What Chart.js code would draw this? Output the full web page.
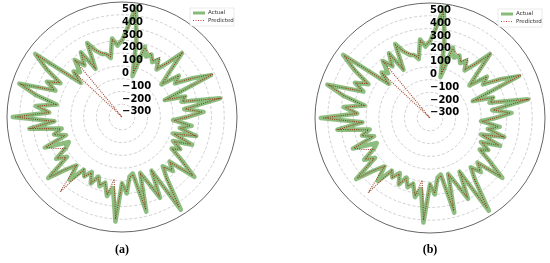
<!DOCTYPE html>
<html>
<head>
<meta charset="utf-8">
<script src="https://cdn.jsdelivr.net/npm/chart.js@4"></script>
<style>
html, body { margin: 0; padding: 0; background: #fff; }
#wrap { position: relative; width: 550px; height: 263px; overflow: hidden; }
.panel { position: absolute; top: 0; width: 275px; height: 263px; }
.cap { position: absolute; top: 242px; text-align: center; font: bold 12px "Liberation Serif", serif; color: #000; }
</style>
</head>
<body>
<div id="wrap">
  <div class="panel" style="left:0"><canvas id="chartA" width="275" height="263"></canvas></div>
  <div class="panel" style="left:275px"><canvas id="chartB" width="275" height="263"></canvas></div>
  <div class="cap" style="left:92px;width:60px">(a)</div>
  <div class="cap" style="left:400px;width:60px">(b)</div>
</div>
<script>
// Data, clockwise from the top, 100 samples
const actual = [
  200, 300, 470, 200, -70, 180, 110, 140, 90, 130,
  60, 140, 285, 100, 0, 150, 90, 230, 370, -40,
  120, 80, 380, 90, 240, 110, 0, 150, 60, 200,
  20, 190, 40, 120, 60, 180, 335, 110, 180, 100,
  200, 460, 80, 300, 150, 60, 365, 50, 70, 200,
  120, 420, 160, 230, 130, 170, 100, 175, 90, 150,
  110, 240, 120, 200, 350, 130, 210, 100, 60, 250,
  60, 150, 80, 330, 130, 455, 170, 280, 120, 300,
  445, 160, 250, 150, 300, 440, 20, 120, 80, 180,
  100, 200, 30, 240, 160, 120, 110, 70, 220, 160
];
const predicted = [
  200, 290, 440, 190, -50, 170, 150, 140, 100, 150,
  70, 140, 280, 110, 10, 150, 100, 230, 390, -30,
  120, 90, 370, 100, 230, 110, 10, 140, 70, 190,
  30, 180, 50, 120, 70, 170, 320, 120, 170, 110,
  190, 440, 90, 290, 150, 70, 350, 60, 80, 190,
  120, 400, 90, 220, 130, 160, 110, 170, 100, 150,
  110, 360, 120, 190, 340, 140, 200, 110, 180, 240,
  70, 150, 90, 320, 140, 440, 170, 270, 130, 290,
  430, 170, 240, 160, 290, 430, 30, 120, -400, 170,
  110, 190, 40, 230, 160, 130, 110, 80, 210, 170
];
const angleLabels = actual.map(() => '');
const tickValues = [-300, -200, -100, 0, 100, 200, 300, 400, 500];

let polarCharts = { a: null, b: null };

function fmtTick(v) {
  return v < 0 ? '\u2212' + Math.abs(v) : String(v);
}

// tick labels stacked above the centre + small legend in the corner
const overlayPlugin = {
  id: 'overlay',
  afterDatasetsDraw(chart) {
    const r = chart.scales.r;
    const ctx = chart.ctx;
    ctx.save();
    ctx.font = 'bold 10px "DejaVu Sans"';
    ctx.fillStyle = '#000';
    ctx.textAlign = 'left';
    ctx.textBaseline = 'middle';
    tickValues.forEach(v => {
      const y = r.yCenter - r.getDistanceFromCenterForValue(v) + 7.5;
      ctx.fillText(fmtTick(v), r.xCenter, y);
    });

    // legend
    const lx = r.xCenter + 68, ly = r.yCenter - 109;
    ctx.fillStyle = 'rgba(255,255,255,0.85)';
    ctx.strokeStyle = '#dddddd';
    ctx.lineWidth = 0.6;
    ctx.beginPath();
    ctx.rect(lx, ly, 44, 18);
    ctx.fill();
    ctx.stroke();

    ctx.lineCap = 'butt';
    ctx.strokeStyle = 'rgba(70,150,50,0.65)';
    ctx.lineWidth = 3;
    ctx.beginPath();
    ctx.moveTo(lx + 3, ly + 5);
    ctx.lineTo(lx + 15, ly + 5);
    ctx.stroke();

    ctx.strokeStyle = 'rgba(200,40,30,0.9)';
    ctx.lineWidth = 1;
    ctx.setLineDash([1, 1.5]);
    ctx.beginPath();
    ctx.moveTo(lx + 3, ly + 12.5);
    ctx.lineTo(lx + 15, ly + 12.5);
    ctx.stroke();
    ctx.setLineDash([]);

    ctx.fillStyle = '#333';
    ctx.font = '5.5px "DejaVu Sans"';
    ctx.fillText('Actual', lx + 18, ly + 5);
    ctx.fillText('Predicted', lx + 18, ly + 12.5);
    ctx.restore();
  }
};

function makePolar(canvasId, padding) {
  const ctx = document.getElementById(canvasId);
  return new Chart(ctx, {
    type: 'radar',
    data: {
      labels: angleLabels,
      datasets: [
        {
          label: 'Actual',
          data: actual,
          borderColor: 'rgba(80,155,60,0.65)',
          borderWidth: 4.5,
          borderJoinStyle: 'round',
          fill: false,
          pointRadius: 0,
          order: 2
        },
        {
          label: 'Predicted',
          data: predicted,
          borderColor: 'rgba(150,45,20,0.9)',
          borderWidth: 1.1,
          borderDash: [1, 1.2],
          fill: false,
          pointRadius: 0,
          order: 1
        }
      ]
    },
    options: {
      responsive: false,
      animation: false,
      layout: { padding: padding },
      elements: { line: { tension: 0 } },
      plugins: { legend: { display: false }, tooltip: { enabled: false } },
      scales: {
        r: {
          min: -400,
          max: 500,
          ticks: { display: false, stepSize: 100 },
          pointLabels: { display: false },
          angleLines: { display: false },
          grid: {
            circular: true,
            color: c => (c.tick && c.tick.value === 500) ? '#555' : '#c4c4c4',
            lineWidth: c => (c.tick && c.tick.value === 500) ? 0.9 : 0.8
          },
          border: {
            dash: c => (c.tick && c.tick.value === 500) ? [] : [3, 2]
          }
        }
      }
    },
    plugins: [overlayPlugin]
  });
}

polarCharts.a = makePolar('chartA', { left: 7, top: 2, right: 38, bottom: 31 });
polarCharts.b = makePolar('chartB', { left: 40, top: 3, right: 5, bottom: 30 });
</script>
</body>
</html>
